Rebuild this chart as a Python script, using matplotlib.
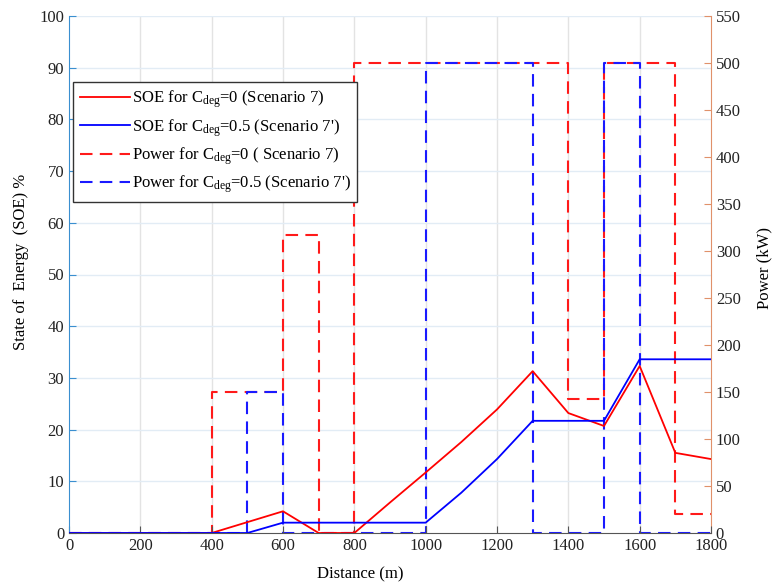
import numpy as np
import matplotlib.pyplot as plt

# -- data --
dist = [0, 100, 200, 300, 400, 500, 600, 700, 800, 900, 1000, 1100, 1200, 1300, 1400, 1500, 1600, 1700, 1800]
soe_c0 = [0, 0, 0, 0, 0, 2.1, 4.2, 0, 0, 5.9, 11.7, 17.6, 23.9, 31.3, 23.2, 20.7, 32.3, 15.5, 14.3]
soe_c05 = [0, 0, 0, 0, 0, 0, 2.0, 2.0, 2.0, 2.0, 2.0, 7.8, 14.3, 21.7, 21.7, 21.7, 33.6, 33.6, 33.6]

step_x = [0, 400, 500, 600, 700, 800, 1000, 1300, 1400, 1500, 1600, 1700, 1800]
pow_c0 = [0, 150, 150, 317, 0, 500, 500, 500, 143, 500, 500, 20, 20]
pow_c05 = [0, 0, 150, 0, 0, 0, 500, 0, 0, 500, 0, 0, 0]

labels = ["SOE for C$_{\\mathrm{deg}}$=0 (Scenario 7)",
          "SOE for C$_{\\mathrm{deg}}$=0.5 (Scenario 7')",
          "Power for C$_{\\mathrm{deg}}$=0 ( Scenario 7)",
          "Power for C$_{\\mathrm{deg}}$=0.5 (Scenario 7')"]


def main():
    plt.rcParams['font.family'] = ['Liberation Serif', 'DejaVu Serif']
    plt.rcParams['mathtext.fontset'] = 'custom'
    plt.rcParams['mathtext.rm'] = 'Liberation Serif'
    plt.rcParams['mathtext.it'] = 'Liberation Serif:italic'
    plt.rcParams['font.size'] = 12

    left_c = '#3a8fd0'
    right_c = '#e0916a'

    fig = plt.figure(figsize=(7.74, 5.88), dpi=100)
    ax = fig.add_axes([69 / 774, 55 / 588, 642 / 774, 517 / 588])
    ax2 = ax.twinx()

    # -- grid (on the lower axes so it stays under every line) --
    for x in range(200, 1800, 200):
        ax2.axvline(x, color='#e3e3e3', lw=1.0, zorder=0)
    for y in range(10, 101, 10):
        ax2.axhline(y * 5.5, color='#e2ecf5', lw=1.0, zorder=0)

    # -- power (right axis) --
    h3, = ax2.plot(step_x, pow_c0, drawstyle='steps-post', color='#ff1a1a', lw=1.5, dashes=(6, 3.5), label=labels[2])
    h4, = ax2.plot(step_x, pow_c05, drawstyle='steps-post', color='#1a1aff', lw=1.5, dashes=(6, 3.5), label=labels[3])

    # -- SOE (left axis) --
    h1, = ax.plot(dist, soe_c0, color='#ff0000', lw=1.3, label=labels[0], zorder=5)
    h2, = ax.plot(dist, soe_c05, color='#0000ff', lw=1.3, label=labels[1], zorder=5)
    ax.set_zorder(ax2.get_zorder() + 1)
    ax.patch.set_visible(False)

    ax.set_xlim(0, 1800)
    ax.set_ylim(0, 100)
    ax2.set_ylim(0, 550)
    ax.set_xticks(range(0, 1801, 200))
    ax.set_yticks(range(0, 101, 10))
    ax2.set_yticks(range(0, 551, 50))

    ax.set_xlabel('Distance (m)', fontsize=12)
    ax.set_ylabel('State of  Energy  (SOE) %', fontsize=12)
    ax2.set_ylabel('Power (kW)', fontsize=12)
    ax.xaxis.set_label_coords(0.453, -0.064)
    ax.yaxis.set_label_coords(-0.062, 0.524)
    ax2.yaxis.set_label_coords(1.071, 0.513)

    for a in (ax, ax2):
        a.spines['top'].set_visible(False)
    ax.spines['left'].set_color(left_c)
    ax.spines['right'].set_visible(False)
    ax2.spines['left'].set_visible(False)
    ax2.spines['right'].set_color(right_c)
    ax.spines['bottom'].set_color('#555555')
    ax2.spines['bottom'].set_visible(False)

    ax.tick_params(axis='y', direction='in', colors=left_c, labelcolor='#222222', length=5)
    ax.tick_params(axis='x', direction='in', color='#555555', labelcolor='#222222', length=5)
    ax2.tick_params(axis='y', direction='in', colors=right_c, labelcolor='#222222', length=5)

    leg = ax.legend(handles=[h1, h2, h3, h4], loc='upper left', bbox_to_anchor=(0.007, 0.872),
                    fontsize=12, fancybox=False, framealpha=1, edgecolor='#333333',
                    borderpad=0.4, labelspacing=0.4, handlelength=3.0, handletextpad=0.1,
                    borderaxespad=0)
    leg.get_frame().set_linewidth(1.0)

    plt.savefig('out.png', dpi=100)
    plt.close('all')


if __name__ == "__main__":
    main()
